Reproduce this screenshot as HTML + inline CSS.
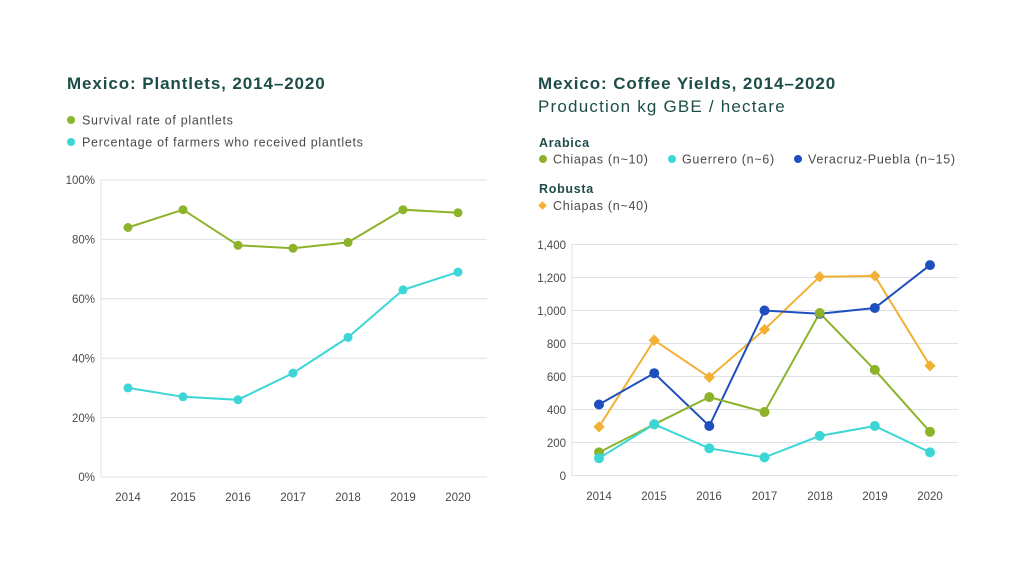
<!DOCTYPE html>
<html><head><meta charset="utf-8"><style>
body{margin:0;background:#fff;width:1024px;height:576px;overflow:hidden}
svg text{font-family:"Liberation Sans",sans-serif}
</style></head><body>
<svg width="1024" height="576" viewBox="0 0 1024 576">
<g fill="#1d4d48" font-weight="bold" font-size="17" letter-spacing="0.9">
<text x="67" y="89">Mexico: Plantlets, 2014–2020</text>
<text x="538" y="89">Mexico: Coffee Yields, 2014–2020</text>
</g>
<text x="538" y="112" font-size="17" fill="#1d4d48" letter-spacing="1.2">Production kg GBE / hectare</text>
<g font-size="12.5" fill="#4a4a4a" letter-spacing="0.7">
<circle cx="71" cy="120" r="4" fill="#8db32b"/><text x="82" y="124.5">Survival rate of plantlets</text>
<circle cx="71" cy="142" r="4" fill="#3dd6d6"/><text x="82" y="146.5">Percentage of farmers who received plantlets</text>
<text x="539" y="147" font-weight="bold" fill="#1d4d48" font-size="12.5">Arabica</text>
<circle cx="543" cy="159" r="4" fill="#8db32b"/><text x="553" y="163.5">Chiapas (n~10)</text>
<circle cx="672" cy="159" r="4" fill="#3dd6d6"/><text x="682" y="163.5">Guerrero (n~6)</text>
<circle cx="798" cy="159" r="4" fill="#1f4fbf"/><text x="808" y="163.5">Veracruz-Puebla (n~15)</text>
<text x="539" y="193" font-weight="bold" fill="#1d4d48" font-size="12.5">Robusta</text>
<rect x="539.5" y="202.5" width="6" height="6" fill="#f2b134" transform="rotate(45 542.5 205.5)"/><text x="553" y="210">Chiapas (n~40)</text>
</g>
<g stroke="#dde2e6" stroke-width="1">
<line x1="101" x2="487" y1="180" y2="180"/><line x1="101" x2="487" y1="239.4" y2="239.4"/><line x1="101" x2="487" y1="298.8" y2="298.8"/><line x1="101" x2="487" y1="358.2" y2="358.2"/><line x1="101" x2="487" y1="417.6" y2="417.6"/><line x1="101" x2="487" y1="477" y2="477"/>
<line x1="101" x2="101" y1="180" y2="477"/>
<line x1="572" x2="958" y1="244.5" y2="244.5"/><line x1="572" x2="958" y1="277.5" y2="277.5"/><line x1="572" x2="958" y1="310.5" y2="310.5"/><line x1="572" x2="958" y1="343.5" y2="343.5"/><line x1="572" x2="958" y1="376.5" y2="376.5"/><line x1="572" x2="958" y1="409.5" y2="409.5"/><line x1="572" x2="958" y1="442.5" y2="442.5"/><line x1="572" x2="958" y1="475.5" y2="475.5"/>
<line x1="572" x2="572" y1="244.5" y2="475.5"/>
</g>
<g font-size="11.5" fill="#4a4a4a" text-anchor="end">
<text x="95" y="184">100%</text><text x="95" y="243.5">80%</text><text x="95" y="303">60%</text><text x="95" y="362.5">40%</text><text x="95" y="422">20%</text><text x="95" y="481">0%</text>
<text x="566" y="249">1,400</text><text x="566" y="282">1,200</text><text x="566" y="315">1,000</text><text x="566" y="348">800</text><text x="566" y="381">600</text><text x="566" y="414">400</text><text x="566" y="447">200</text><text x="566" y="480">0</text>
</g>
<g font-size="11.5" fill="#4a4a4a" text-anchor="middle">
<text x="128" y="501">2014</text><text x="183" y="501">2015</text><text x="238" y="501">2016</text><text x="293" y="501">2017</text><text x="348" y="501">2018</text><text x="403" y="501">2019</text><text x="458" y="501">2020</text>
<text x="599" y="500">2014</text><text x="654" y="500">2015</text><text x="709" y="500">2016</text><text x="764.5" y="500">2017</text><text x="820" y="500">2018</text><text x="875" y="500">2019</text><text x="930" y="500">2020</text>
</g>
<g fill="none" stroke-width="2">
<polyline stroke="#8db32b" points="128,227.5 183,209.7 238,245.3 293,248.3 348,242.4 403,209.7 458,212.7"/>
<polyline stroke="#3dd6d6" points="128,387.9 183,396.8 238,399.8 293,373.1 348,337.4 403,289.9 458,272.1"/>
<polyline stroke="#f2b134" points="599,426.8 654.2,340.2 709.3,377.3 764.5,329.5 819.7,276.7 874.8,275.9 930,365.8"/>
<polyline stroke="#1f4fbf" points="599,404.5 654.2,373.2 709.3,426 764.5,310.5 819.7,313.8 874.8,308 930,265.1"/>
<polyline stroke="#8db32b" points="599,452.4 654.2,424.3 709.3,397.1 764.5,412 819.7,313 874.8,369.9 930,431.8"/>
<polyline stroke="#3dd6d6" points="599,458.2 654.2,424.3 709.3,448.3 764.5,457.4 819.7,435.9 874.8,426 930,452.4"/>
</g>
<g fill="#8db32b"><circle cx="128" cy="227.5" r="4.5"/><circle cx="183" cy="209.7" r="4.5"/><circle cx="238" cy="245.3" r="4.5"/><circle cx="293" cy="248.3" r="4.5"/><circle cx="348" cy="242.4" r="4.5"/><circle cx="403" cy="209.7" r="4.5"/><circle cx="458" cy="212.7" r="4.5"/></g>
<g fill="#3dd6d6"><circle cx="128" cy="387.9" r="4.5"/><circle cx="183" cy="396.8" r="4.5"/><circle cx="238" cy="399.8" r="4.5"/><circle cx="293" cy="373.1" r="4.5"/><circle cx="348" cy="337.4" r="4.5"/><circle cx="403" cy="289.9" r="4.5"/><circle cx="458" cy="272.1" r="4.5"/></g>
<g fill="#f2b134">
<rect x="595" y="422.8" width="8" height="8" transform="rotate(45 599 426.8)"/><rect x="650.2" y="336.2" width="8" height="8" transform="rotate(45 654.2 340.2)"/><rect x="705.3" y="373.3" width="8" height="8" transform="rotate(45 709.3 377.3)"/><rect x="760.5" y="325.5" width="8" height="8" transform="rotate(45 764.5 329.5)"/><rect x="815.7" y="272.7" width="8" height="8" transform="rotate(45 819.7 276.7)"/><rect x="870.8" y="271.9" width="8" height="8" transform="rotate(45 874.8 275.9)"/><rect x="926" y="361.8" width="8" height="8" transform="rotate(45 930 365.8)"/>
</g>
<g fill="#1f4fbf"><circle cx="599" cy="404.5" r="5"/><circle cx="654.2" cy="373.2" r="5"/><circle cx="709.3" cy="426" r="5"/><circle cx="764.5" cy="310.5" r="5"/><circle cx="819.7" cy="313.8" r="5"/><circle cx="874.8" cy="308" r="5"/><circle cx="930" cy="265.1" r="5"/></g>
<g fill="#8db32b"><circle cx="599" cy="452.4" r="5"/><circle cx="654.2" cy="424.3" r="5"/><circle cx="709.3" cy="397.1" r="5"/><circle cx="764.5" cy="412" r="5"/><circle cx="819.7" cy="313" r="5"/><circle cx="874.8" cy="369.9" r="5"/><circle cx="930" cy="431.8" r="5"/></g>
<g fill="#3dd6d6"><circle cx="599" cy="458.2" r="5"/><circle cx="654.2" cy="424.3" r="5"/><circle cx="709.3" cy="448.3" r="5"/><circle cx="764.5" cy="457.4" r="5"/><circle cx="819.7" cy="435.9" r="5"/><circle cx="874.8" cy="426" r="5"/><circle cx="930" cy="452.4" r="5"/></g>
</svg>
</body></html>
